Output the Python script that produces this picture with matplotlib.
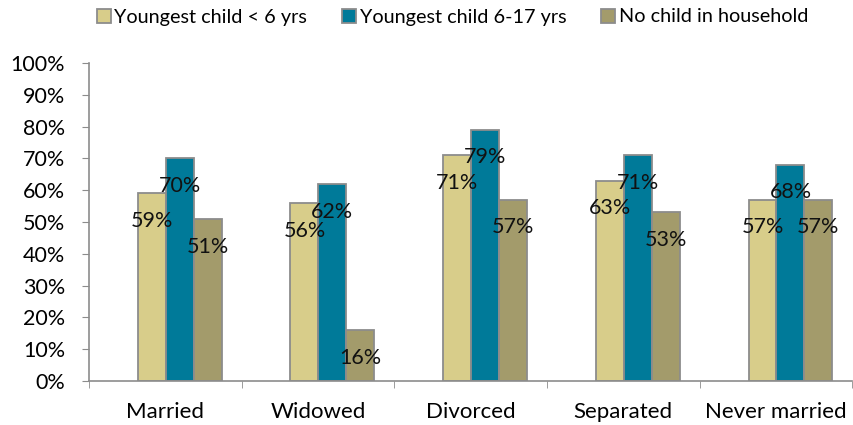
import matplotlib.pyplot as plt
import numpy as np

# Data (percent)
categories = ["Married", "Widowed", "Divorced", "Separated", "Never married"]
series_names = ["Youngest child < 6 yrs", "Youngest child 6-17 yrs", "No child in household"]
under_6 = [59, 56, 71, 63, 57]
age_6_17 = [70, 62, 79, 71, 68]
no_child = [51, 16, 57, 53, 57]
yticks = np.arange(0, 101, 10)

colors = ["#D8CD8A", "#007A99", "#A39B6B"]

plt.rcParams["font.family"] = ["Lato", "DejaVu Sans"]

fig = plt.figure(figsize=(8.54, 4.25), dpi=100)
ax = fig.add_axes([0.104, 0.1035, 0.894, 0.7485])

x = np.arange(len(categories))
bar_width = 0.183
shift = 0.095  # bars sit slightly right of the category centre

for j, (vals, name) in enumerate(zip([under_6, age_6_17, no_child], series_names)):
    pos = x + shift + (j - 1) * bar_width
    ax.bar(pos, vals, bar_width, color=colors[j], edgecolor="#8C8C8C",
           linewidth=1.3, label=name, zorder=2)
    for px, v in zip(pos, vals):
        ax.annotate(f"{v}%", xy=(px, v), xytext=(0, -20),
                    textcoords="offset points", ha="center", va="center",
                    fontsize=15.5, color="#111111", zorder=3)

ax.set_xlim(-0.5, len(categories) - 0.5)
ax.set_ylim(0, 100)
ax.set_yticks(yticks)
ax.set_yticklabels([f"{t}%" for t in yticks])
ax.set_xticks(x)
ax.set_xticklabels(categories)
ax.set_xticks(np.arange(-0.5, len(categories)), minor=True)
ax.tick_params(axis="x", which="major", length=0, pad=15, labelsize=16)
ax.tick_params(axis="x", which="minor", length=5, color="#8C8C8C")
ax.tick_params(axis="y", length=5, color="#8C8C8C", labelsize=15.5, pad=12)

for s in ["top", "right"]:
    ax.spines[s].set_visible(False)
for s in ["left", "bottom"]:
    ax.spines[s].set_color("#8C8C8C")
    ax.spines[s].set_linewidth(1.2)

fig.legend(loc="center", bbox_to_anchor=(0.53, 0.96), ncol=3, frameon=False,
           fontsize=14.3, handlelength=0.7, handleheight=0.7, handletextpad=0.2,
           columnspacing=1.75)

fig.savefig("out.png", dpi=100)
